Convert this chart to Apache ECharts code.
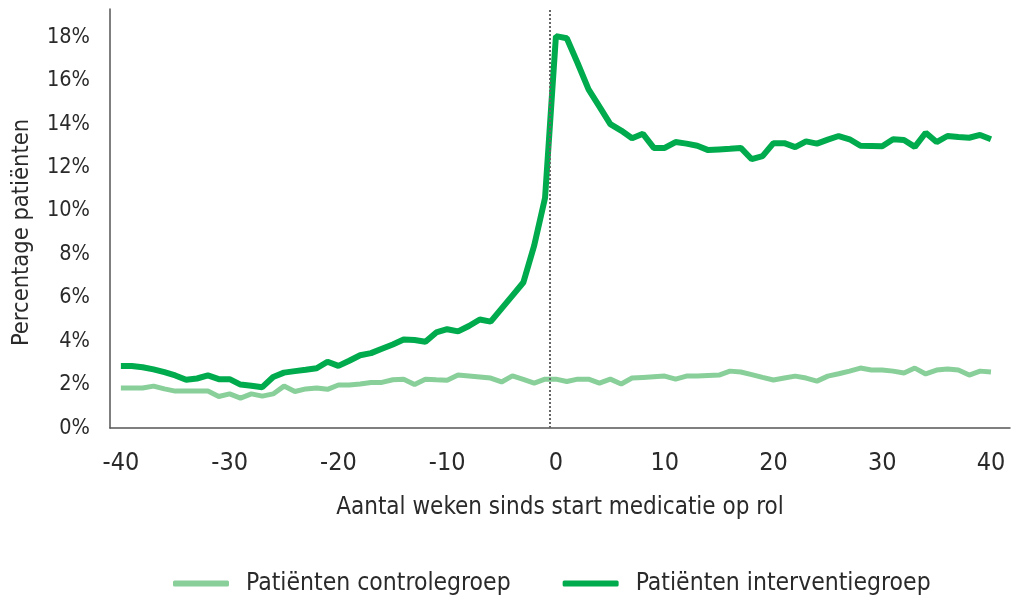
<!DOCTYPE html>
<html>
<head>
<meta charset="utf-8">
<script src="https://cdn.jsdelivr.net/npm/echarts@6/dist/echarts.min.js"></script>
<style>html,body{margin:0;padding:0;background:#fff}#c{width:1011px;height:600px}</style>
</head>
<body>
<div id="c"></div>
<script>
var weeks = [];
for (var w = -40; w <= 40; w++) weeks.push(w);

var controlValues = [
  1.84, 1.84, 1.84, 1.93, 1.80, 1.70, 1.70, 1.70, 1.70, 1.45,
  1.57, 1.38, 1.57, 1.47, 1.57, 1.93, 1.68, 1.80, 1.84, 1.78,
  1.98, 1.98, 2.03, 2.10, 2.10, 2.22, 2.25, 2.00, 2.25, 2.22,
  2.20, 2.44, 2.40, 2.35, 2.30, 2.12, 2.40, 2.24, 2.07, 2.25,
  2.25, 2.14, 2.25, 2.25, 2.07, 2.25, 2.03, 2.30, 2.33, 2.36,
  2.39, 2.25, 2.39, 2.40, 2.42, 2.44, 2.62, 2.58, 2.46, 2.33,
  2.21, 2.30, 2.39, 2.30, 2.16, 2.39, 2.50, 2.62, 2.76, 2.67,
  2.67, 2.62, 2.53, 2.76, 2.49, 2.67, 2.72, 2.67, 2.44, 2.62,
  2.58
];

var interventionValues = [
  2.86, 2.86, 2.80, 2.70, 2.57, 2.42, 2.22, 2.28, 2.42, 2.25,
  2.25, 2.00, 1.95, 1.88, 2.35, 2.55, 2.62, 2.68, 2.75, 3.05,
  2.86, 3.10, 3.35, 3.45, 3.65, 3.85, 4.08, 4.05, 3.97, 4.40,
  4.55, 4.45, 4.70, 5.00, 4.90, 5.50, 6.10, 6.70, 8.40, 10.60,
  18.05, 17.95, 16.80, 15.60, 14.80, 14.00, 13.70, 13.35, 13.55, 12.90,
  12.90, 13.17, 13.10, 13.00, 12.80, 12.83, 12.86, 12.90, 12.38, 12.52,
  13.12, 13.12, 12.94, 13.20, 13.10, 13.28, 13.45, 13.30, 13.00, 12.99,
  12.98, 13.30, 13.27, 12.95, 13.60, 13.17, 13.45, 13.40, 13.37, 13.50,
  13.30
];

var xTicks = [-40, -30, -20, -10, 0, 10, 20, 30, 40];
var yTicks = [0, 2, 4, 6, 8, 10, 12, 14, 16, 18];
var seriesNames = ['Patiënten controlegroep', 'Patiënten interventiegroep'];

function pairs(vals) {
  return weeks.map(function (w, i) { return [w, vals[i]]; });
}

var FONT = '"DejaVu Sans Condensed", "DejaVu Sans", sans-serif';
var TXT = '#2a2a2a';
var chart = echarts.init(document.getElementById('c'), null, { renderer: 'canvas' });
chart.setOption({
  animation: false,
  textStyle: { fontFamily: FONT },
  grid: { left: 110, right: 1, top: 9, bottom: 172, containLabel: false, outerBoundsMode: 'none' },
  legend: {
    bottom: -1,
    left: 168,
    itemWidth: 56,
    itemHeight: 6,
    itemGap: 52,
    icon: 'roundRect',
    textStyle: { fontSize: 24.5, color: TXT, fontFamily: FONT, padding: [0, 0, 0, 12] },
    data: seriesNames
  },
  xAxis: {
    type: 'value',
    min: -41,
    max: 41.75,
    name: 'Aantal weken sinds start medicatie op rol',
    nameLocation: 'middle',
    nameGap: 68,
    nameTextStyle: { fontSize: 24, color: TXT, fontFamily: FONT },
    axisLine: { show: true, onZero: false, lineStyle: { color: '#555', width: 1.5 } },
    axisTick: { show: false },
    splitLine: { show: false },
    axisLabel: {
      customValues: xTicks,
      fontSize: 25,
      color: TXT,
      margin: 23,
      fontFamily: FONT
    }
  },
  yAxis: {
    type: 'value',
    min: 0,
    max: 19.3,
    name: 'Percentage patiënten',
    nameLocation: 'middle',
    nameGap: 76,
    nameRotate: 90,
    nameTextStyle: { fontSize: 23.5, color: TXT, fontFamily: FONT, padding: [0, 0, 0, -28] },
    axisLine: { show: true, onZero: false, lineStyle: { color: '#555', width: 1.5 } },
    axisTick: { show: false },
    splitLine: { show: false },
    axisLabel: {
      customValues: yTicks,
      fontSize: 21.5,
      color: TXT,
      margin: 20,
      fontFamily: FONT,
      formatter: function (v) { return v + '%'; }
    }
  },
  series: [
    {
      name: seriesNames[0],
      type: 'line',
      data: pairs(controlValues),
      showSymbol: false,
      symbol: 'none',
      lineStyle: { color: '#88CF9A', width: 5 },
      itemStyle: { color: '#88CF9A' },
      z: 2
    },
    {
      name: seriesNames[1],
      type: 'line',
      data: pairs(interventionValues),
      showSymbol: false,
      symbol: 'none',
      lineStyle: { color: '#00AB4E', width: 6 },
      itemStyle: { color: '#00AB4E' },
      z: 3,
      markLine: {
        silent: true,
        symbol: 'none',
        label: { show: false },
        lineStyle: { color: '#666', type: 'dotted', width: 2 },
        data: [{ xAxis: -0.55 }]
      }
    }
  ]
});
</script>
</body>
</html>
